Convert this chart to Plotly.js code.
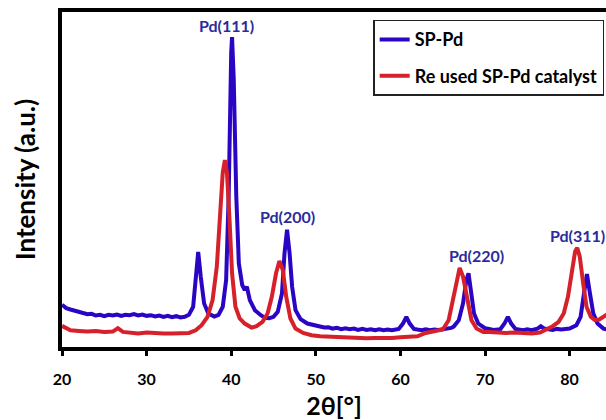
<!DOCTYPE html>
<html>
<head>
<meta charset="utf-8">
<script src="https://cdn.plot.ly/plotly-3.0.1.min.js"></script>
<style>html,body{margin:0;padding:0;background:#fff;}#chart{width:606px;height:420px;}</style>
</head>
<body>
<div id="chart"></div>
<script>
// SP-Pd (blue) diffractogram
const bluePos = [20,20.5,21,21.5,22,22.5,23,23.5,24,24.5,25,25.5,26,26.5,27,27.5,28,28.5,29,29.5,30,30.5,31,31.5,32,32.5,33,33.5,34,34.5,35,35.5,35.8,36.1,36.4,36.8,37.3,38,38.5,39,39.4,39.7,40.0,40.1,40.3,40.6,40.9,41.3,41.6,41.85,42.2,42.8,43.5,44,44.5,45,45.5,46,46.3,46.6,46.9,47.2,47.6,48.2,49,49.5,50,50.5,51,51.5,52,52.5,53,53.5,54,54.5,55,55.5,56,56.5,57,57.5,58,58.5,59,59.8,60.3,60.7,61.1,61.6,62,62.5,63,63.5,64,64.5,65,65.5,66,66.3,66.9,67.4,67.8,68.05,68.3,68.7,69.2,70,70.5,71,71.8,72.3,72.7,73.1,73.6,74,74.5,75,75.5,76.2,76.6,77,77.5,78,78.5,79,79.5,80,80.8,81.3,81.7,82.05,82.4,82.8,83.3,84,84.5];
const blueInt = [12.6,11.6,11.2,10.8,10.4,10.1,9.8,9.9,9.4,9.6,9.2,9.6,9.4,9.7,9.3,9.6,9.5,9.8,9.4,9.7,9.3,9.5,9.1,9.4,9.0,9.3,8.9,9.2,8.8,9.0,9.6,12,20,28.4,21,13,10,9.1,9.6,12,20,45,88,92.5,80,45,25,18.5,17,18,14,11,9.5,8.7,8.6,9,10.5,16,28,35,28,18,11,8.3,7.0,6.6,6.2,6.1,5.8,5.9,5.5,5.7,5.3,5.6,5.3,5.5,5.1,5.4,5.1,5.3,5.0,5.3,5.0,5.2,5.0,5.4,7,9,7,5.4,5.2,5.0,5.3,5.0,5.2,5.1,5.3,5.4,5.7,6.1,8,13,20,22,18,10,7,5.6,5.4,5.1,5.3,7,9,7,5.4,5.2,5.0,5.3,5.0,5.5,6.2,5.5,5.3,5.1,5.4,5.2,5.4,5.5,6.5,9,16,21.8,16,10,7,5.5,5.2];

// Re used SP-Pd catalyst (red) diffractogram
const redPos = [20,20.5,21,22,23,24,25,26,26.6,27.2,28,29,30,31,32,33,34,35,35.8,36.5,37.2,37.8,38.3,38.7,39.0,39.25,39.5,39.8,40.1,40.5,41,41.6,42.4,43,43.7,44.3,44.8,45.3,45.7,46.1,46.5,47,47.6,48.5,49.5,50.5,52,53,54,55,56,57,58,59,60,61,62,63,64,65,65.7,66.2,66.6,67.0,67.4,67.9,68.4,69,69.8,70.5,71.5,72.5,73.5,74.5,75.5,76.5,77.3,78,78.7,79.3,79.8,80.3,80.65,80.9,81.2,81.6,82,82.5,83,83.5,84,84.5];
const redInt = [6.3,5.5,5.0,4.8,4.6,4.8,4.5,4.6,5.6,4.5,4.2,4.0,4.3,4.1,4.0,4.0,4.1,4.2,5,6.5,9,14,24,40,52,55.8,52,38,22,12,8.5,7,5.8,6.2,7.5,10,15,22,25.7,23,15,8.5,5.5,4.2,3.5,3.2,3.0,2.8,2.6,2.7,2.6,2.7,2.6,2.7,2.9,3.0,3.2,4.2,4.8,5.2,8,14,20,23.6,21,14,8,5.5,4.5,4.5,4.2,4.2,4.3,4.2,4.0,4.3,5.2,6.2,7.5,10,15,23,28.5,29.6,27,19,12,9,8,8.2,9,9.8];

const seriesNames = ["SP-Pd", "Re used SP-Pd catalyst"];
const tickValues = [20,30,40,50,60,70,80];
const peakLabels = ["Pd(111)","Pd(200)","Pd(220)","Pd(311)"];
const peakLabelX = [39.4,46.6,69.05,80.9];
const peakLabelY = [96,39,27.2,33.4];

const FONT = "Lato, 'Open Sans', sans-serif";

const traces = [
  {x: bluePos, y: blueInt, name: seriesNames[0], type: "scatter", mode: "lines",
   legendgroup: "a", line: {color: "#2a06c4", width: 4}},
  {x: redPos, y: redInt, name: seriesNames[1], type: "scatter", mode: "lines",
   legendgroup: "b", line: {color: "#d6202a", width: 4}}
];

const annotations = peakLabels.map((t, i) => ({
  x: peakLabelX[i], y: peakLabelY[i], xref: "x", yref: "y",
  text: "<b>" + t + "</b>", showarrow: false,
  font: {family: FONT, size: 16, color: "#2b2b9c"}
}));

const layout = {
  width: 606, height: 420,
  margin: {l: 62, r: 0, t: 12, b: 73},
  paper_bgcolor: "#fff", plot_bgcolor: "#fff",
  font: {family: FONT, color: "#000"},
  showlegend: true,
  legend: {
    x: 0.572, xanchor: "left", y: 0.977, yanchor: "top",
    bgcolor: "#fff", bordercolor: "#222", borderwidth: 1.5,
    font: {family: FONT, size: 18, color: "#000", weight: "bold"},
    tracegroupgap: 10
  },
  xaxis: {
    range: [20, 84.3], showgrid: false, zeroline: false,
    showline: true, linecolor: "#000", linewidth: 4, mirror: true,
    ticks: "outside", ticklen: 5, tickwidth: 3, tickcolor: "#000",
    tickvals: tickValues, ticktext: tickValues.map(String),
    ticklabelstandoff: 10,
    tickfont: {family: FONT, size: 16, color: "#000", weight: "bold"},
    title: {text: "<b>2θ[°]</b>" + "\u00a0".repeat(9), font: {family: FONT, size: 25, color: "#000"}, standoff: 16}
  },
  yaxis: {
    range: [0, 100], showgrid: false, zeroline: false,
    showline: true, linecolor: "#000", linewidth: 4, mirror: false,
    ticks: "", showticklabels: false,
    title: {text: "\u00a0".repeat(10) + "<b>Intensity (a.u.)</b>", font: {family: FONT, size: 26, color: "#000"}, standoff: 16}
  },
  annotations: annotations
};

Plotly.newPlot("chart", traces, layout, {displayModeBar: false, staticPlot: true});
</script>
</body>
</html>
